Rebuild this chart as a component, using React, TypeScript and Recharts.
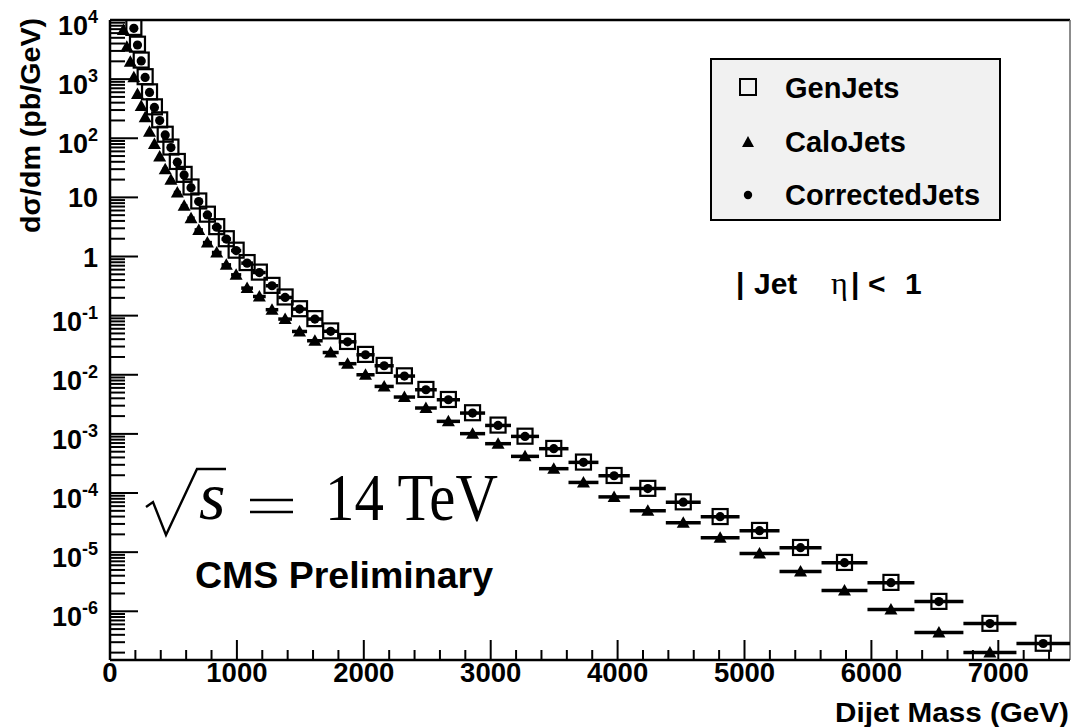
import React from 'react';
import { ScatterChart, Scatter, XAxis, YAxis, ErrorBar, ReferenceLine } from 'recharts';

// Bin edges in GeV (variable-width dijet mass bins)
const binEdges = [92, 119, 146, 174, 202, 231, 261, 293, 330, 370, 413, 457, 503, 558, 610, 667, 732, 803, 879, 954, 1034, 1127, 1227, 1326, 1434, 1553, 1676, 1802, 1942, 2085, 2236, 2404, 2575, 2758, 2956, 3160, 3381, 3613, 3849, 4096, 4380, 4655, 4961, 5276, 5607, 5969, 6339, 6725, 7143, 7565];

// dσ/dm (pb/GeV) per bin; null = off the plotted range
const genJets = [null, null, null, 7500, 3900, 2100, 1100, 610, 340, 205, 117, 71, 40.5, 24.5, 15.0, 8.7, 5.2, 3.2, 2.0, 1.28, 0.79, 0.545, 0.325, 0.207, 0.131, 0.089, 0.0552, 0.0366, 0.0221, 0.0144, 0.0096, 0.00565, 0.00382, 0.00228, 0.00141, 0.000915, 0.000568, 0.000334, 0.000198, 0.00012, 7.1e-5, 4.0e-5, 2.33e-5, 1.2e-5, 6.7e-6, 3.08e-6, 1.47e-6, 6.25e-7, 2.88e-7];
const caloJets = [6780, 3540, 1970, 1076, 561, 352, 227, 129, 80.2, 49.0, 30.0, 19.8, 12.1, 7.19, 4.45, 2.82, 1.72, 1.17, 0.723, 0.49, 0.292, 0.211, 0.126, 0.0875, 0.054, 0.0376, 0.0238, 0.0154, 0.01, 0.00635, 0.0042, 0.00274, 0.00163, 0.00101, 0.000683, 0.000417, 0.000258, 0.000151, 8.6e-5, 5.03e-5, 3.15e-5, 1.76e-5, 9.45e-6, 4.69e-6, 2.24e-6, 1.07e-6, 4.37e-7, 2.0e-7, null];
const correctedJets = [null, null, null, 7240, 3780, 2030, 1070, 595, 332, 199, 114, 69.5, 39.4, 24.0, 14.6, 8.49, 5.06, 3.14, 1.97, 1.26, 0.773, 0.536, 0.32, 0.203, 0.129, 0.0875, 0.0544, 0.0361, 0.0218, 0.0142, 0.00951, 0.00558, 0.00378, 0.00225, 0.00139, 0.000907, 0.000562, 0.00033, 0.000196, 0.000119, 7.01e-5, 3.98e-5, 2.31e-5, 1.19e-5, 6.65e-6, 3.05e-6, 1.46e-6, 6.19e-7, 2.85e-7];

const seriesNames = ['GenJets', 'CaloJets', 'CorrectedJets'];
const xMajorTickLabels = [0, 1000, 2000, 3000, 4000, 5000, 6000, 7000];
const yDecades = [-7, -6, -5, -4, -3, -2, -1, 0, 1, 2, 3, 4];

const X_MAX = 7565;
const Y_MIN = 1.5e-7;
const Y_MAX = 1e4;

const SANS = '"Liberation Sans", Arial, Helvetica, sans-serif';
const SERIF = '"Liberation Serif", "Times New Roman", serif';

function buildSeries(values: (number | null)[]) {
  const out: { x: number; y: number; xerr: number }[] = [];
  values.forEach((v, i) => {
    if (v === null) return;
    const lo = binEdges[i];
    const hi = binEdges[i + 1];
    out.push({ x: (lo + hi) / 2, y: v, xerr: (hi - lo) / 2 });
  });
  return out;
}

const genData = buildSeries(genJets);
const caloData = buildSeries(caloJets);
const corrData = buildSeries(correctedJets);

const xTicks: number[] = [];
for (let v = 0; v <= 7400; v += 200) xTicks.push(v);

const yTicks: number[] = [];
yDecades.forEach((e) => {
  for (let k = 1; k <= 9; k++) {
    const v = Number((k * Math.pow(10, e)).toPrecision(3));
    if (v >= Y_MIN && v <= Y_MAX) yTicks.push(v);
  }
});

const SquareMarker = (props: any) => {
  const { cx, cy } = props;
  if (cx == null || cy == null) return null;
  return <rect x={cx - 7.5} y={cy - 7.5} width={15} height={15} fill="none" stroke="#000" strokeWidth={2.2} />;
};
const TriangleMarker = (props: any) => {
  const { cx, cy } = props;
  if (cx == null || cy == null) return null;
  return <path d={`M${cx},${cy - 6.5} L${cx + 6.5},${cy + 5} L${cx - 6.5},${cy + 5} Z`} fill="#000" />;
};
const CircleMarker = (props: any) => {
  const { cx, cy } = props;
  if (cx == null || cy == null) return null;
  return <circle cx={cx} cy={cy} r={4.6} fill="#000" />;
};

const XTick = (props: any) => {
  const { x, y, payload } = props;
  const v = payload.value;
  const major = xMajorTickLabels.includes(v);
  return (
    <g>
      <line x1={x} y1={y} x2={x} y2={y - (major ? 20 : 10)} stroke="#000" strokeWidth={2} />
      {major && (
        <text x={x} y={y + 22} textAnchor="middle" fontFamily={SANS} fontWeight="bold" fontSize={27.5} fill="#000">
          {v}
        </text>
      )}
    </g>
  );
};

const YTick = (props: any) => {
  const { x, y, payload } = props;
  const v = payload.value;
  const lg = Math.log10(v);
  const e = Math.round(lg);
  const major = Math.abs(lg - e) < 1e-6;
  let label = null;
  if (major) {
    if (e === 0 || e === 1) {
      label = (
        <text x={x - 12} y={y + 10} textAnchor="end" fontFamily={SANS} fontWeight="bold" fontSize={27} fill="#000">
          {e === 0 ? '1' : '10'}
        </text>
      );
    } else {
      label = (
        <text x={x - 12} y={y + 15} textAnchor="end" fontFamily={SANS} fontWeight="bold" fontSize={27} fill="#000">
          10
          <tspan dy={-12} fontSize={18}>{String(e)}</tspan>
        </text>
      );
    }
  }
  return (
    <g>
      <line x1={x} y1={y} x2={x + (major ? 28 : 15)} y2={y} stroke="#000" strokeWidth={2} />
      {label}
    </g>
  );
};

const Overlay = () => (
  <svg width={1071} height={727} style={{ position: 'absolute', left: 0, top: 0, pointerEvents: 'none' }}>
    {/* y-axis title */}
    <text transform="translate(40,18) rotate(-90)" textAnchor="end" fontFamily={SANS} fontWeight="bold" fontSize={28} textLength={215} lengthAdjust="spacingAndGlyphs" fill="#000">
      dσ/dm (pb/GeV)
    </text>
    {/* x-axis title */}
    <text x={835} y={722} fontFamily={SANS} fontWeight="bold" fontSize={28} textLength={234} lengthAdjust="spacingAndGlyphs" fill="#000">
      Dijet Mass (GeV)
    </text>
    {/* legend */}
    <g>
      <rect x={711} y={59} width={289} height={161} fill="#f1f1f1" stroke="#000" strokeWidth={2} />
      <rect x={740} y={79} width={16} height={16} fill="none" stroke="#000" strokeWidth={2} />
      <path d="M748,136 L754,147 L742,147 Z" fill="#000" />
      <circle cx={748} cy={195} r={4.2} fill="#000" />
      <text x={785} y={98} fontFamily={SANS} fontWeight="bold" fontSize={29} fill="#000">{seriesNames[0]}</text>
      <text x={785} y={152} fontFamily={SANS} fontWeight="bold" fontSize={29} fill="#000">{seriesNames[1]}</text>
      <text x={785} y={205} fontFamily={SANS} fontWeight="bold" fontSize={29} fill="#000">{seriesNames[2]}</text>
    </g>
    {/* |Jet eta| < 1 */}
    <text y={294} fontFamily={SANS} fontWeight="bold" fontSize={30} fill="#000">
      <tspan x={736}>|</tspan>
      <tspan x={754}>Jet</tspan>
      <tspan x={831} fontFamily={SERIF} fontWeight="normal" fontSize={32}>η</tspan>
      <tspan x={851}>|</tspan>
      <tspan x={868}>&lt;</tspan>
      <tspan x={905}>1</tspan>
    </text>
    {/* sqrt(s) = 14 TeV */}
    <path d="M146,507 L153,502 L166,535 L197,469 L226,469" fill="none" stroke="#000" strokeWidth={2.4} strokeLinejoin="miter" />
    <text x={199} y={519} fontFamily={SERIF} fontStyle="italic" fontSize={68} fill="#000">s</text>
    <path d="M250,500 H293 M250,512 H293" stroke="#000" strokeWidth={2.6} />
    <text x={325} y={520} fontFamily={SERIF} fontSize={68} fill="#000" textLength={173} lengthAdjust="spacingAndGlyphs">14 TeV</text>
    {/* CMS Preliminary */}
    <text x={195} y={588} fontFamily={SANS} fontWeight="bold" fontSize={36} fill="#000" textLength={298} lengthAdjust="spacingAndGlyphs">
      CMS Preliminary
    </text>
  </svg>
);

export default function App() {
  return (
    <div style={{ position: 'absolute', left: 0, top: 0, width: 1071, height: 727, background: '#fff' }}>
      <ScatterChart width={1071} height={727} margin={{ top: 20, right: 1, bottom: 0, left: 10 }}>
        <XAxis
          type="number"
          dataKey="x"
          domain={[0, X_MAX]}
          allowDataOverflow
          ticks={xTicks}
          interval={0}
          tickSize={0}
          tickMargin={0}
          tickLine={false}
          tick={XTick}
          height={67}
          axisLine={{ stroke: '#000', strokeWidth: 2.5 }}
        />
        <YAxis
          type="number"
          dataKey="y"
          scale="log"
          domain={[Y_MIN, Y_MAX]}
          allowDataOverflow
          ticks={yTicks}
          interval={0}
          tickSize={0}
          tickMargin={0}
          tickLine={false}
          tick={YTick}
          width={100}
          axisLine={{ stroke: '#000', strokeWidth: 2.5 }}
        />
        <ReferenceLine y={Y_MAX} stroke="#000" strokeWidth={2.5} />
        <ReferenceLine x={X_MAX} stroke="#666" strokeWidth={1.5} />
        <Scatter name={seriesNames[0]} data={genData} shape={SquareMarker} isAnimationActive={false} />
        <Scatter name={seriesNames[1]} data={caloData} shape={TriangleMarker} isAnimationActive={false}>
          <ErrorBar dataKey="xerr" direction="x" width={0} stroke="#000" strokeWidth={3.5} />
        </Scatter>
        <Scatter name={seriesNames[2]} data={corrData} shape={CircleMarker} isAnimationActive={false}>
          <ErrorBar dataKey="xerr" direction="x" width={0} stroke="#000" strokeWidth={3.5} />
        </Scatter>
      </ScatterChart>
      <Overlay />
    </div>
  );
}
